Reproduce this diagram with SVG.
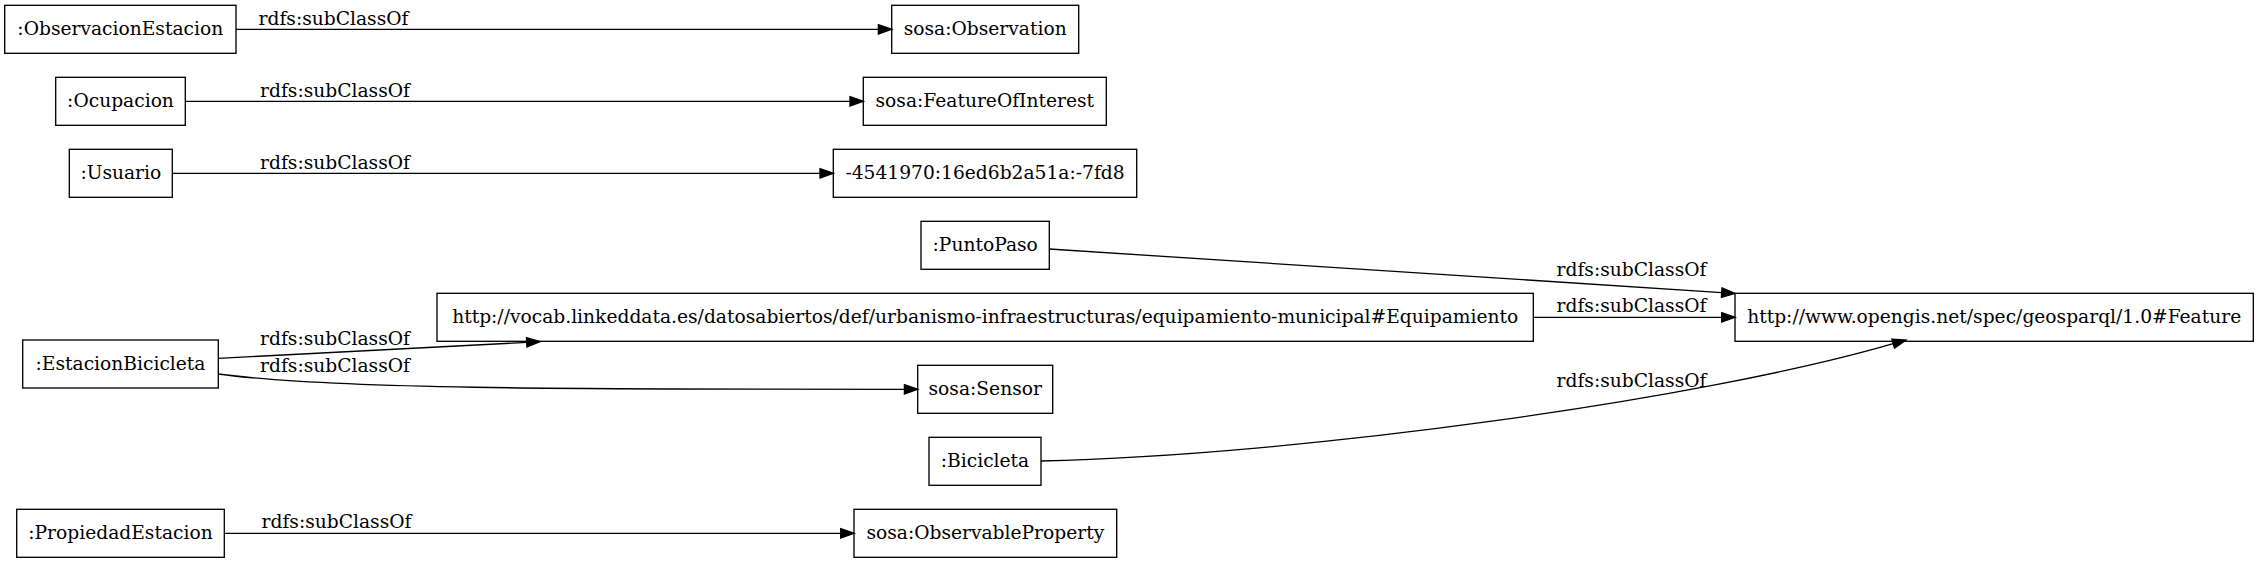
<svg xmlns="http://www.w3.org/2000/svg" width="2259" height="563" viewBox="0 0 2259 563">
<style>
.n rect{fill:#fff;stroke:#000;stroke-width:1.33}
text{font-family:"DejaVu Serif","Liberation Serif",serif;font-size:18.67px;fill:#000}
.n text{text-anchor:middle}
.e text{text-anchor:middle}
.e path{fill:none;stroke:#000;stroke-width:1.33}
</style>
<defs>
<marker id="ah" markerUnits="userSpaceOnUse" markerWidth="15" markerHeight="11" refX="0" refY="4.67" orient="auto" overflow="visible">
<path d="M0,0 L13.33,4.67 L0,9.33 Z" fill="#000" stroke="#000" stroke-width="1.33"/>
</marker>
</defs>
<rect width="2259" height="563" fill="#fff"/>
<g id="nodes">
<g id="n1" class="n"><rect x="4.7" y="5.3" width="231.3" height="48"/><text x="120.3" y="34.8">:ObservacionEstacion</text></g>
<g id="n2" class="n"><rect x="891.7" y="5.3" width="187" height="48"/><text x="985.2" y="34.8">sosa:Observation</text></g>
<g id="n3" class="n"><rect x="55.7" y="77.3" width="129.6" height="48"/><text x="120.5" y="106.8">:Ocupacion</text></g>
<g id="n4" class="n"><rect x="863.3" y="77.3" width="243" height="48"/><text x="984.8" y="106.8">sosa:FeatureOfInterest</text></g>
<g id="n5" class="n"><rect x="69.3" y="149.3" width="103" height="48"/><text x="120.8" y="178.8">:Usuario</text></g>
<g id="n6" class="n"><rect x="833.3" y="149.3" width="303.4" height="48"/><text x="985" y="178.8">-4541970:16ed6b2a51a:-7fd8</text></g>
<g id="n7" class="n"><rect x="921" y="221.3" width="128.3" height="48"/><text x="985.2" y="250.8">:PuntoPaso</text></g>
<g id="n8" class="n"><rect x="437" y="293.3" width="1096.3" height="48"/><text x="985.2" y="322.8">http://vocab.linkeddata.es/datosabiertos/def/urbanismo-infraestructuras/equipamiento-municipal#Equipamiento</text></g>
<g id="n9" class="n"><rect x="1735" y="293.3" width="518.3" height="48"/><text x="1994.2" y="322.8">http://www.opengis.net/spec/geosparql/1.0#Feature</text></g>
<g id="n10" class="n"><rect x="22.7" y="340" width="195.6" height="48"/><text x="120.5" y="369.5">:EstacionBicicleta</text></g>
<g id="n11" class="n"><rect x="917.7" y="365.3" width="135" height="48"/><text x="985.2" y="394.8">sosa:Sensor</text></g>
<g id="n12" class="n"><rect x="929" y="437.3" width="112" height="48"/><text x="985" y="466.8">:Bicicleta</text></g>
<g id="n13" class="n"><rect x="16.7" y="509.3" width="207.6" height="48"/><text x="120.5" y="538.8">:PropiedadEstacion</text></g>
<g id="n14" class="n"><rect x="854" y="509.3" width="262.7" height="48"/><text x="985.3" y="538.8">sosa:ObservableProperty</text></g>
</g>
<g id="connectors" class="e">
<path d="M236,29.3 L878.4,29.3" marker-end="url(#ah)"/>
<text x="333.5" y="24.5">rdfs:subClassOf</text>
<path d="M185.3,101.3 L850,101.3" marker-end="url(#ah)"/>
<text x="335" y="96.7">rdfs:subClassOf</text>
<path d="M172.3,173.3 L820,173.3" marker-end="url(#ah)"/>
<text x="335" y="168.5">rdfs:subClassOf</text>
<path d="M1049.3,249 L1721.7,292.6" marker-end="url(#ah)"/>
<text x="1631.5" y="276">rdfs:subClassOf</text>
<path d="M1533.3,317.3 L1721.7,317.3" marker-end="url(#ah)"/>
<text x="1631.5" y="311.7">rdfs:subClassOf</text>
<path d="M218.3,358.3 L526.7,342.4" marker-end="url(#ah)"/>
<text x="335" y="345">rdfs:subClassOf</text>
<path d="M218.3,374 C330,389 560,389.3 904.4,389.3" marker-end="url(#ah)"/>
<text x="335" y="372">rdfs:subClassOf</text>
<path d="M1041,461 C1300,455 1700,400 1893.2,343.7" marker-end="url(#ah)"/>
<text x="1631.5" y="387">rdfs:subClassOf</text>
<path d="M224.3,533.3 L840.7,533.3" marker-end="url(#ah)"/>
<text x="336.5" y="528">rdfs:subClassOf</text>
</g>
</svg>
